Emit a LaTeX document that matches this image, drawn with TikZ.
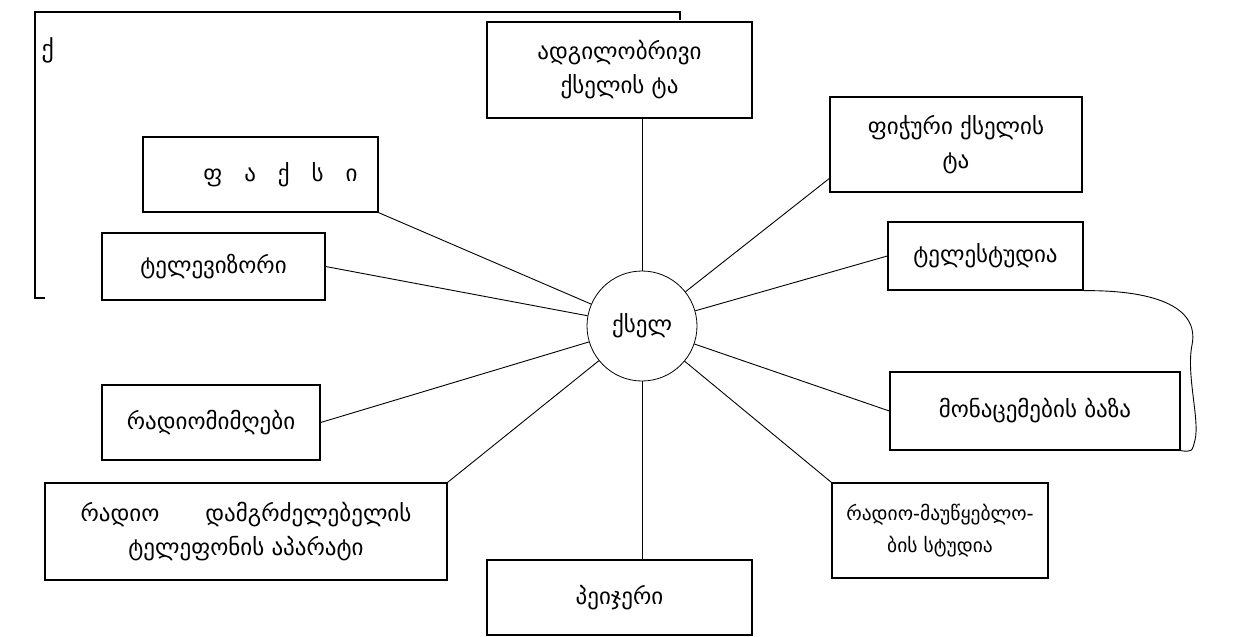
\documentclass[tikz,border=0pt]{standalone}
\usepackage{fontspec}
\newfontfamily\geo{DejaVu Sans}
\usetikzlibrary{positioning}

\begin{document}
\begin{tikzpicture}[x=1pt,y=-1pt,
  box/.style={draw,line width=1.3pt,rectangle,align=center,inner sep=0pt,
    font=\geo\fontsize{23}{34}\selectfont},
  hub/.style={draw,line width=0.8pt,circle,minimum size=110pt,inner sep=0pt,
    font=\geo\fontsize{23}{34}\selectfont},
  link/.style={line width=0.9pt}]

\useasboundingbox (0,0) rectangle (1240,637);

% frame at top left
\draw[line width=1.3pt] (45,298) -- (35,298) -- (35,12) -- (680,12) -- (680,20);
\node (mark) at (38,50) [right,font=\geo\fontsize{24}{24}\selectfont] {ქ};

\node (net) at (642,326) [hub] {ქსელ};

\node (local) at (619.5,70) [box,minimum width=265pt,minimum height=96pt]
{ადგილობრივი \\ ქსელის ტა};
\node (cell) at (956,144.5) [box,minimum width=252pt,minimum height=95pt]
{ფიჭური ქსელის \\ ტა};
\node (fax) at (260.5,174.5) [box,minimum width=235pt,minimum height=75pt]
{\hspace{40pt}ფ~~~ა~~~ქ~~~ს~~~ი};
\node (tv) at (213.5,266.5) [box,minimum width=223pt,minimum height=67pt]
{ტელევიზორი};
\node (studio) at (985.5,256) [box,minimum width=195pt,minimum height=68pt]
{ტელესტუდია};
\node (db) at (1035,411) [box,minimum width=290pt,minimum height=78pt]
{მონაცემების ბაზა};
\node (radio) at (211,422.5) [box,minimum width=218pt,minimum height=75pt]
{რადიომიმღები};
\node (phone) at (246,531.5) [box,minimum width=402pt,minimum height=97pt]
{რადიო\quad\quad დამგრძელებელის \\ ტელეფონის აპარატი};
\node (bcast) at (940,530.5) [box,minimum width=216pt,minimum height=95pt,
  font=\geo\fontsize{19.5}{32}\selectfont]
{რადიო-მაუწყებლო- \\ ბის სტუდია};
\node (pager) at (619.5,597.5) [box,minimum width=265pt,minimum height=75pt]
{პეიჯერი};

\draw[link] (net.north) -- (net.north |- local.south);
\draw[link] (net.south) -- (net.south |- pager.north);
\draw[link] (cell.195) -- (net);
\draw[link] (fax.south east) -- (net);
\draw[link] (tv.east) -- (net);
\draw[link] (studio.west) -- (net);
\draw[link] (db.west) -- (net);
\draw[link] (radio.east) -- (net);
\draw[link] (phone.north east) -- (net);
\draw[link] (bcast.north west) -- (net);

% brace between studio and database
\draw[link] (studio.south east) .. controls (1150,290) and (1200,305) .. (1192,345)
  .. controls (1186,375) and (1200,420) .. (1195,440) .. controls (1192,452) .. (db.south east);

\end{tikzpicture}
\end{document}
